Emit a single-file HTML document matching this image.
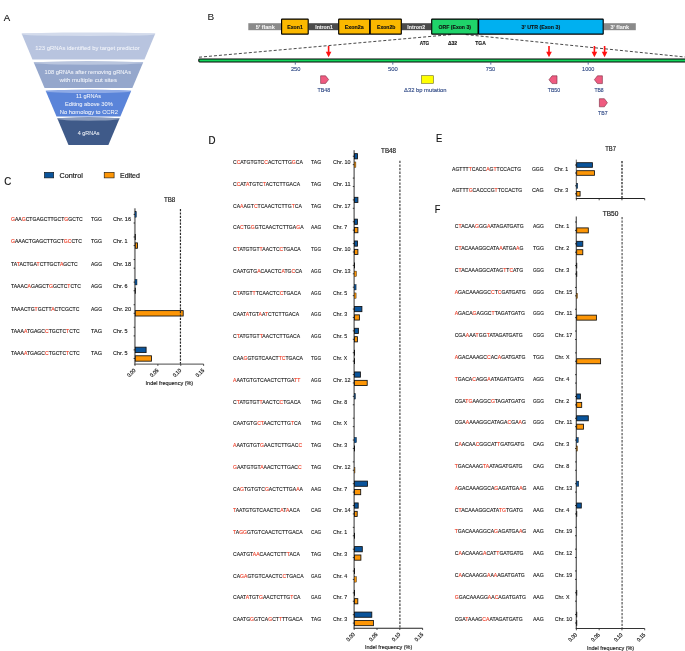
<!DOCTYPE html>
<html><head><meta charset="utf-8"><style>
html,body{margin:0;padding:0;background:#fff;width:685px;height:651px;overflow:hidden;}
svg{display:block;font-family:"Liberation Sans", sans-serif;will-change:transform;}
</style></head><body>
<svg width="685" height="651" viewBox="0 0 685 651">
<rect width="685" height="651" fill="#fff"/>
<text x="3.80" y="20.90" font-size="9.8" fill="#111" text-anchor="start" font-weight="normal" textLength="6.40" lengthAdjust="spacingAndGlyphs" stroke="#111" stroke-width="0.15" >A</text>
<polygon points="21.60,33.6 155.30,33.6 144.44,59.4 32.46,59.4" fill="#b8c4df"/>
<ellipse cx="88.45" cy="34.20" rx="66.85" ry="1.8" fill="#d3dbec"/>
<polygon points="33.68,62.3 143.22,62.3 132.36,88.1 44.54,88.1" fill="#95a7cc"/>
<ellipse cx="88.45" cy="62.90" rx="54.77" ry="1.8" fill="#b9c5de"/>
<polygon points="45.64,90.7 131.26,90.7 120.36,116.6 56.54,116.6" fill="#5a84d9"/>
<ellipse cx="88.45" cy="91.30" rx="42.81" ry="1.8" fill="#8eaae6"/>
<polygon points="57.26,118.3 119.64,118.3 108.40,145.0 68.50,145.0" fill="#3f5a89"/>
<ellipse cx="88.45" cy="118.90" rx="31.19" ry="1.8" fill="#8a9bbb"/>
<text x="35.20" y="49.50" font-size="6.2" fill="#f4f6fb" text-anchor="start" font-weight="normal" textLength="104.50" lengthAdjust="spacingAndGlyphs" stroke="#f4f6fb" stroke-width="0.04" >123 gRNAs identified by target predictor</text>
<text x="44.60" y="73.80" font-size="6.2" fill="#f4f6fb" text-anchor="start" font-weight="normal" textLength="86.40" lengthAdjust="spacingAndGlyphs" stroke="#f4f6fb" stroke-width="0.04" >108 gRNAs after removing gRNAs</text>
<text x="59.50" y="81.60" font-size="6.2" fill="#f4f6fb" text-anchor="start" font-weight="normal" textLength="57.50" lengthAdjust="spacingAndGlyphs" stroke="#f4f6fb" stroke-width="0.04" >with multiple cut sites</text>
<text x="76.10" y="98.40" font-size="6.2" fill="#f4f6fb" text-anchor="start" font-weight="normal" textLength="25.00" lengthAdjust="spacingAndGlyphs" stroke="#f4f6fb" stroke-width="0.04" >11 gRNAs</text>
<text x="64.90" y="106.00" font-size="6.2" fill="#f4f6fb" text-anchor="start" font-weight="normal" textLength="47.90" lengthAdjust="spacingAndGlyphs" stroke="#f4f6fb" stroke-width="0.04" >Editing above 30%</text>
<text x="59.80" y="113.90" font-size="6.2" fill="#f4f6fb" text-anchor="start" font-weight="normal" textLength="58.20" lengthAdjust="spacingAndGlyphs" stroke="#f4f6fb" stroke-width="0.04" >No homology to CCR2</text>
<text x="77.80" y="135.20" font-size="6.2" fill="#f4f6fb" text-anchor="start" font-weight="normal" textLength="21.70" lengthAdjust="spacingAndGlyphs" stroke="#f4f6fb" stroke-width="0.04" >4 gRNAs</text>
<text x="207.50" y="20.30" font-size="9.6" fill="#111" text-anchor="start" font-weight="normal" textLength="6.70" lengthAdjust="spacingAndGlyphs" stroke="#111" stroke-width="0.02" >B</text>
<line x1="451" y1="34.6" x2="198" y2="57.3" stroke="#333" stroke-width="0.9" stroke-dasharray="3,2"/>
<line x1="465.7" y1="34.6" x2="685" y2="57.0" stroke="#333" stroke-width="0.9" stroke-dasharray="3,2"/>
<rect x="248.3" y="23.2" width="32.80" height="7.00" fill="#8a8a8a"/>
<rect x="308.7" y="23.2" width="29.50" height="7.00" fill="#4b4b4b"/>
<rect x="401.8" y="23.2" width="29.40" height="7.00" fill="#4b4b4b"/>
<rect x="603.7" y="23.2" width="32.10" height="7.00" fill="#8a8a8a"/>
<rect x="281.60" y="19.10" width="26.60" height="15.00" fill="#fbb800" stroke="#000" stroke-width="1.15" rx="0.4"/>
<rect x="338.70" y="19.10" width="31.00" height="15.00" fill="#fbb800" stroke="#000" stroke-width="1.15" rx="0.4"/>
<rect x="370.20" y="19.10" width="31.10" height="15.00" fill="#fbb800" stroke="#000" stroke-width="1.15" rx="0.4"/>
<rect x="431.70" y="19.10" width="46.40" height="15.00" fill="#1fd36a" stroke="#000" stroke-width="1.15" rx="0.4"/>
<rect x="478.60" y="19.10" width="124.60" height="15.00" fill="#00b0f0" stroke="#000" stroke-width="1.15" rx="0.4"/>
<text x="255.80" y="29.00" font-size="5.6" fill="#f5f5f5" text-anchor="start" font-weight="bold" textLength="19.00" lengthAdjust="spacingAndGlyphs" stroke="#f5f5f5" stroke-width="0.08" >5' flank</text>
<text x="287.30" y="29.00" font-size="5.6" fill="#111" text-anchor="start" font-weight="bold" textLength="15.50" lengthAdjust="spacingAndGlyphs" stroke="#111" stroke-width="0.12" >Exon1</text>
<text x="315.20" y="29.00" font-size="5.6" fill="#f0f0f0" text-anchor="start" font-weight="bold" textLength="17.70" lengthAdjust="spacingAndGlyphs" stroke="#f0f0f0" stroke-width="0.08" >Intron1</text>
<text x="344.70" y="29.00" font-size="5.6" fill="#111" text-anchor="start" font-weight="bold" textLength="18.90" lengthAdjust="spacingAndGlyphs" stroke="#111" stroke-width="0.12" >Exon2a</text>
<text x="377.00" y="29.00" font-size="5.6" fill="#111" text-anchor="start" font-weight="bold" textLength="18.30" lengthAdjust="spacingAndGlyphs" stroke="#111" stroke-width="0.12" >Exon2b</text>
<text x="407.20" y="29.00" font-size="5.6" fill="#f0f0f0" text-anchor="start" font-weight="bold" textLength="17.90" lengthAdjust="spacingAndGlyphs" stroke="#f0f0f0" stroke-width="0.08" >Intron2</text>
<text x="438.50" y="29.00" font-size="5.6" fill="#111" text-anchor="start" font-weight="bold" textLength="32.50" lengthAdjust="spacingAndGlyphs" stroke="#111" stroke-width="0.12" >ORF (Exon 3)</text>
<text x="521.50" y="29.00" font-size="5.6" fill="#111" text-anchor="start" font-weight="bold" textLength="38.70" lengthAdjust="spacingAndGlyphs" stroke="#111" stroke-width="0.12" >3' UTR (Exon 3)</text>
<text x="610.50" y="28.80" font-size="5.6" fill="#f5f5f5" text-anchor="start" font-weight="bold" textLength="18.60" lengthAdjust="spacingAndGlyphs" stroke="#f5f5f5" stroke-width="0.08" >3' flank</text>
<text x="419.70" y="45.00" font-size="5.6" fill="#111" text-anchor="start" font-weight="bold" textLength="9.50" lengthAdjust="spacingAndGlyphs" stroke="#111" stroke-width="0.12" >ATG</text>
<text x="447.90" y="45.00" font-size="5.6" fill="#111" text-anchor="start" font-weight="bold" textLength="9.30" lengthAdjust="spacingAndGlyphs" stroke="#111" stroke-width="0.12" >&#916;32</text>
<text x="475.20" y="45.00" font-size="5.6" fill="#111" text-anchor="start" font-weight="bold" textLength="10.60" lengthAdjust="spacingAndGlyphs" stroke="#111" stroke-width="0.12" >TGA</text>
<rect x="198.8" y="58.9" width="487" height="3.0" rx="0.8" fill="#12d65c" stroke="#050505" stroke-width="1.05"/>
<line x1="295.3" y1="62.4" x2="295.3" y2="64.6" stroke="#2d4784" stroke-width="0.8"/>
<text x="290.90" y="71.30" font-size="5.4" fill="#2d4784" text-anchor="start" font-weight="normal" textLength="9.60" lengthAdjust="spacingAndGlyphs" stroke="#2d4784" stroke-width="0.1" >250</text>
<line x1="392.8" y1="62.4" x2="392.8" y2="64.6" stroke="#2d4784" stroke-width="0.8"/>
<text x="388.00" y="71.30" font-size="5.4" fill="#2d4784" text-anchor="start" font-weight="normal" textLength="9.80" lengthAdjust="spacingAndGlyphs" stroke="#2d4784" stroke-width="0.1" >500</text>
<line x1="490.8" y1="62.4" x2="490.8" y2="64.6" stroke="#2d4784" stroke-width="0.8"/>
<text x="485.80" y="71.30" font-size="5.4" fill="#2d4784" text-anchor="start" font-weight="normal" textLength="9.40" lengthAdjust="spacingAndGlyphs" stroke="#2d4784" stroke-width="0.1" >750</text>
<line x1="588.2" y1="62.4" x2="588.2" y2="64.6" stroke="#2d4784" stroke-width="0.8"/>
<text x="582.10" y="71.30" font-size="5.4" fill="#2d4784" text-anchor="start" font-weight="normal" textLength="12.30" lengthAdjust="spacingAndGlyphs" stroke="#2d4784" stroke-width="0.1" >1000</text>
<rect x="327.80" y="46.0" width="1.6" height="6.5" fill="#ff1010"/>
<polygon points="325.80,51.8 331.40,51.8 328.60,57.2" fill="#ff1010"/>
<rect x="548.20" y="46.0" width="1.6" height="6.5" fill="#ff1010"/>
<polygon points="546.20,51.8 551.80,51.8 549.00,57.2" fill="#ff1010"/>
<rect x="593.60" y="46.0" width="1.6" height="6.5" fill="#ff1010"/>
<polygon points="591.60,51.8 597.20,51.8 594.40,57.2" fill="#ff1010"/>
<rect x="603.80" y="46.0" width="1.6" height="6.5" fill="#ff1010"/>
<polygon points="601.80,51.8 607.40,51.8 604.60,57.2" fill="#ff1010"/>
<polygon points="320.6,75.8 325.56,75.8 328.6,79.60 325.56,83.4 320.6,83.4" fill="#ef5b80" stroke="#7a2a40" stroke-width="0.6"/>
<polygon points="557.0,75.8 552.04,75.8 549.0,79.70 552.04,83.6 557.0,83.6" fill="#ef5b80" stroke="#7a2a40" stroke-width="0.6"/>
<polygon points="602.4,75.8 597.44,75.8 594.4,79.70 597.44,83.6 602.4,83.6" fill="#ef5b80" stroke="#7a2a40" stroke-width="0.6"/>
<polygon points="599.4,98.7 604.36,98.7 607.4,102.75 604.36,106.8 599.4,106.8" fill="#ef5b80" stroke="#7a2a40" stroke-width="0.6"/>
<rect x="421.5" y="75.7" width="12" height="7.6" fill="#ffff00" stroke="#6b6b20" stroke-width="0.6"/>
<text x="317.50" y="91.60" font-size="5.6" fill="#2d4784" text-anchor="start" font-weight="normal" textLength="12.70" lengthAdjust="spacingAndGlyphs" stroke="#2d4784" stroke-width="0.12" >TB48</text>
<text x="404.10" y="91.80" font-size="5.6" fill="#2d4784" text-anchor="start" font-weight="normal" textLength="42.30" lengthAdjust="spacingAndGlyphs" stroke="#2d4784" stroke-width="0.12" >&#916;32 bp mutation</text>
<text x="547.70" y="91.70" font-size="5.6" fill="#2d4784" text-anchor="start" font-weight="normal" textLength="12.50" lengthAdjust="spacingAndGlyphs" stroke="#2d4784" stroke-width="0.12" >TB50</text>
<text x="594.40" y="91.70" font-size="5.6" fill="#2d4784" text-anchor="start" font-weight="normal" textLength="9.20" lengthAdjust="spacingAndGlyphs" stroke="#2d4784" stroke-width="0.12" >TB8</text>
<text x="598.10" y="115.10" font-size="5.6" fill="#2d4784" text-anchor="start" font-weight="normal" textLength="9.40" lengthAdjust="spacingAndGlyphs" stroke="#2d4784" stroke-width="0.12" >TB7</text>
<text x="4.20" y="185.40" font-size="10.2" fill="#111" text-anchor="start" font-weight="normal" textLength="7.00" lengthAdjust="spacingAndGlyphs" stroke="#111" stroke-width="0.15" >C</text>
<rect x="44.4" y="172.3" width="9.3" height="5.6" fill="#0a549b" stroke="#111" stroke-width="0.6"/>
<rect x="104.2" y="172.3" width="9.9" height="5.6" fill="#fd9606" stroke="#111" stroke-width="0.6"/>
<text x="59.50" y="178.30" font-size="8.0" fill="#1a1a1a" text-anchor="start" font-weight="normal" textLength="23.40" lengthAdjust="spacingAndGlyphs" stroke="#1a1a1a" stroke-width="0.2" >Control</text>
<text x="120.00" y="178.30" font-size="8.0" fill="#1a1a1a" text-anchor="start" font-weight="normal" textLength="19.90" lengthAdjust="spacingAndGlyphs" stroke="#1a1a1a" stroke-width="0.2" >Edited</text>
<text x="164.00" y="201.90" font-size="7.4" fill="#222" text-anchor="start" font-weight="normal" textLength="11.30" lengthAdjust="spacingAndGlyphs" stroke="#222" stroke-width="0.2" >TB8</text>
<text x="11.00" y="220.90" font-size="5.8" fill="#1a1a1a" stroke="#1a1a1a" stroke-width="0.15" textLength="71.68" lengthAdjust="spacingAndGlyphs"><tspan fill="#ee3b24" stroke="#ee3b24">G</tspan>AA<tspan fill="#ee3b24" stroke="#ee3b24">G</tspan>CTGAGCTTGCT<tspan fill="#ee3b24" stroke="#ee3b24">G</tspan>GCTC</text>
<text x="91.00" y="220.90" font-size="5.8" fill="#1a1a1a" text-anchor="start" font-weight="normal" textLength="11.00" lengthAdjust="spacingAndGlyphs" stroke="#1a1a1a" stroke-width="0.15" >TGG</text>
<text x="113.00" y="220.90" font-size="5.8" fill="#222" text-anchor="start" font-weight="normal" textLength="18.00" lengthAdjust="spacingAndGlyphs" stroke="#222" stroke-width="0.15" >Chr. 16</text>
<text x="11.00" y="243.30" font-size="5.8" fill="#1a1a1a" stroke="#1a1a1a" stroke-width="0.15" textLength="70.84" lengthAdjust="spacingAndGlyphs"><tspan fill="#ee3b24" stroke="#ee3b24">G</tspan>AAACTGAGCTTGCT<tspan fill="#ee3b24" stroke="#ee3b24">G</tspan><tspan fill="#ee3b24" stroke="#ee3b24">C</tspan>CTC</text>
<text x="91.00" y="243.30" font-size="5.8" fill="#1a1a1a" text-anchor="start" font-weight="normal" textLength="11.00" lengthAdjust="spacingAndGlyphs" stroke="#1a1a1a" stroke-width="0.15" >TGG</text>
<text x="113.00" y="243.30" font-size="5.8" fill="#222" text-anchor="start" font-weight="normal" textLength="14.50" lengthAdjust="spacingAndGlyphs" stroke="#222" stroke-width="0.15" >Chr. 1</text>
<text x="11.00" y="265.70" font-size="5.8" fill="#1a1a1a" stroke="#1a1a1a" stroke-width="0.15" textLength="66.69" lengthAdjust="spacingAndGlyphs">TA<tspan fill="#ee3b24" stroke="#ee3b24">T</tspan>ACTGA<tspan fill="#ee3b24" stroke="#ee3b24">T</tspan>CTTGCT<tspan fill="#ee3b24" stroke="#ee3b24">A</tspan>GCTC</text>
<text x="91.00" y="265.70" font-size="5.8" fill="#1a1a1a" text-anchor="start" font-weight="normal" textLength="11.00" lengthAdjust="spacingAndGlyphs" stroke="#1a1a1a" stroke-width="0.15" >AGG</text>
<text x="113.00" y="265.70" font-size="5.8" fill="#222" text-anchor="start" font-weight="normal" textLength="18.00" lengthAdjust="spacingAndGlyphs" stroke="#222" stroke-width="0.15" >Chr. 18</text>
<text x="11.00" y="288.10" font-size="5.8" fill="#1a1a1a" stroke="#1a1a1a" stroke-width="0.15" textLength="69.90" lengthAdjust="spacingAndGlyphs">TAAAC<tspan fill="#ee3b24" stroke="#ee3b24">A</tspan>GAGCT<tspan fill="#ee3b24" stroke="#ee3b24">G</tspan>GCTC<tspan fill="#ee3b24" stroke="#ee3b24">T</tspan>CTC</text>
<text x="91.00" y="288.10" font-size="5.8" fill="#1a1a1a" text-anchor="start" font-weight="normal" textLength="11.00" lengthAdjust="spacingAndGlyphs" stroke="#1a1a1a" stroke-width="0.15" >AGG</text>
<text x="113.00" y="288.10" font-size="5.8" fill="#222" text-anchor="start" font-weight="normal" textLength="14.50" lengthAdjust="spacingAndGlyphs" stroke="#222" stroke-width="0.15" >Chr. 6</text>
<text x="11.00" y="310.50" font-size="5.8" fill="#1a1a1a" stroke="#1a1a1a" stroke-width="0.15" textLength="68.39" lengthAdjust="spacingAndGlyphs">TAAACTG<tspan fill="#ee3b24" stroke="#ee3b24">T</tspan>GCTT<tspan fill="#ee3b24" stroke="#ee3b24">A</tspan>CTCGCTC</text>
<text x="91.00" y="310.50" font-size="5.8" fill="#1a1a1a" text-anchor="start" font-weight="normal" textLength="11.00" lengthAdjust="spacingAndGlyphs" stroke="#1a1a1a" stroke-width="0.15" >AGG</text>
<text x="113.00" y="310.50" font-size="5.8" fill="#222" text-anchor="start" font-weight="normal" textLength="18.00" lengthAdjust="spacingAndGlyphs" stroke="#222" stroke-width="0.15" >Chr. 20</text>
<text x="11.00" y="332.90" font-size="5.8" fill="#1a1a1a" stroke="#1a1a1a" stroke-width="0.15" textLength="68.67" lengthAdjust="spacingAndGlyphs">TAAA<tspan fill="#ee3b24" stroke="#ee3b24">A</tspan>TGAGC<tspan fill="#ee3b24" stroke="#ee3b24">C</tspan>TGCTC<tspan fill="#ee3b24" stroke="#ee3b24">T</tspan>CTC</text>
<text x="91.00" y="332.90" font-size="5.8" fill="#1a1a1a" text-anchor="start" font-weight="normal" textLength="11.00" lengthAdjust="spacingAndGlyphs" stroke="#1a1a1a" stroke-width="0.15" >TAG</text>
<text x="113.00" y="332.90" font-size="5.8" fill="#222" text-anchor="start" font-weight="normal" textLength="14.50" lengthAdjust="spacingAndGlyphs" stroke="#222" stroke-width="0.15" >Chr. 5</text>
<text x="11.00" y="355.30" font-size="5.8" fill="#1a1a1a" stroke="#1a1a1a" stroke-width="0.15" textLength="68.67" lengthAdjust="spacingAndGlyphs">TAAA<tspan fill="#ee3b24" stroke="#ee3b24">A</tspan>TGAGC<tspan fill="#ee3b24" stroke="#ee3b24">C</tspan>TGCTC<tspan fill="#ee3b24" stroke="#ee3b24">T</tspan>CTC</text>
<text x="91.00" y="355.30" font-size="5.8" fill="#1a1a1a" text-anchor="start" font-weight="normal" textLength="11.00" lengthAdjust="spacingAndGlyphs" stroke="#1a1a1a" stroke-width="0.15" >TAG</text>
<text x="113.00" y="355.30" font-size="5.8" fill="#222" text-anchor="start" font-weight="normal" textLength="14.50" lengthAdjust="spacingAndGlyphs" stroke="#222" stroke-width="0.15" >Chr. 5</text>
<line x1="134.90" y1="208.3" x2="134.90" y2="364.1" stroke="#8e8e8e" stroke-width="1.9"/>
<rect x="135.00" y="211.60" width="1.40" height="5.60" fill="#0a549b" stroke="#111" stroke-width="0.4"/>
<rect x="134.80" y="233.98" width="1.0" height="6.00" fill="#111"/>
<rect x="135.30" y="242.88" width="2.20" height="5.40" fill="#fd9606" stroke="#111" stroke-width="0.85"/>
<rect x="135.00" y="279.34" width="2.00" height="5.60" fill="#0a549b" stroke="#111" stroke-width="0.4"/>
<rect x="134.80" y="287.74" width="1.0" height="6.00" fill="#111"/>
<rect x="135.30" y="310.62" width="47.90" height="5.40" fill="#fd9606" stroke="#111" stroke-width="0.85"/>
<rect x="135.30" y="347.18" width="10.80" height="5.40" fill="#0a549b" stroke="#111" stroke-width="0.85"/>
<rect x="135.30" y="355.78" width="16.20" height="5.40" fill="#fd9606" stroke="#111" stroke-width="0.85"/>
<line x1="180.45" y1="209.0" x2="180.45" y2="364.1" stroke="#2a2a2a" stroke-width="1.2" stroke-dasharray="2.2,1.2"/>
<line x1="133.60" y1="214.40" x2="135.00" y2="214.40" stroke="#111" stroke-width="0.8"/>
<line x1="133.60" y1="223.00" x2="135.00" y2="223.00" stroke="#111" stroke-width="0.8"/>
<line x1="133.60" y1="236.98" x2="135.00" y2="236.98" stroke="#111" stroke-width="0.8"/>
<line x1="133.60" y1="245.58" x2="135.00" y2="245.58" stroke="#111" stroke-width="0.8"/>
<line x1="133.60" y1="259.56" x2="135.00" y2="259.56" stroke="#111" stroke-width="0.8"/>
<line x1="133.60" y1="268.16" x2="135.00" y2="268.16" stroke="#111" stroke-width="0.8"/>
<line x1="133.60" y1="282.14" x2="135.00" y2="282.14" stroke="#111" stroke-width="0.8"/>
<line x1="133.60" y1="290.74" x2="135.00" y2="290.74" stroke="#111" stroke-width="0.8"/>
<line x1="133.60" y1="304.72" x2="135.00" y2="304.72" stroke="#111" stroke-width="0.8"/>
<line x1="133.60" y1="313.32" x2="135.00" y2="313.32" stroke="#111" stroke-width="0.8"/>
<line x1="133.60" y1="327.30" x2="135.00" y2="327.30" stroke="#111" stroke-width="0.8"/>
<line x1="133.60" y1="335.90" x2="135.00" y2="335.90" stroke="#111" stroke-width="0.8"/>
<line x1="133.60" y1="349.88" x2="135.00" y2="349.88" stroke="#111" stroke-width="0.8"/>
<line x1="133.60" y1="358.48" x2="135.00" y2="358.48" stroke="#111" stroke-width="0.8"/>
<line x1="133.95" y1="364.1" x2="203.61" y2="364.1" stroke="#6e6e6e" stroke-width="1.3"/>
<line x1="135.00" y1="364.1" x2="135.00" y2="365.90" stroke="#222" stroke-width="0.8"/>
<text x="136.00" y="370.80" font-size="5.5" fill="#222" stroke="#222" stroke-width="0.2" text-anchor="end" textLength="9.6" lengthAdjust="spacingAndGlyphs" transform="rotate(-45 136.00 370.80)">0.00</text>
<line x1="157.87" y1="364.1" x2="157.87" y2="365.90" stroke="#222" stroke-width="0.8"/>
<text x="158.87" y="370.80" font-size="5.5" fill="#222" stroke="#222" stroke-width="0.2" text-anchor="end" textLength="9.6" lengthAdjust="spacingAndGlyphs" transform="rotate(-45 158.87 370.80)">0.05</text>
<line x1="180.74" y1="364.1" x2="180.74" y2="365.90" stroke="#222" stroke-width="0.8"/>
<text x="181.74" y="370.80" font-size="5.5" fill="#222" stroke="#222" stroke-width="0.2" text-anchor="end" textLength="9.6" lengthAdjust="spacingAndGlyphs" transform="rotate(-45 181.74 370.80)">0.10</text>
<line x1="203.61" y1="364.1" x2="203.61" y2="365.90" stroke="#222" stroke-width="0.8"/>
<text x="204.61" y="370.80" font-size="5.5" fill="#222" stroke="#222" stroke-width="0.2" text-anchor="end" textLength="9.6" lengthAdjust="spacingAndGlyphs" transform="rotate(-45 204.61 370.80)">0.15</text>
<text x="145.60" y="385.40" font-size="5.8" fill="#222" text-anchor="start" font-weight="normal" textLength="47.60" lengthAdjust="spacingAndGlyphs" stroke="#222" stroke-width="0.15" >Indel frequency (%)</text>
<text x="208.60" y="143.60" font-size="10.2" fill="#111" text-anchor="start" font-weight="normal" textLength="7.00" lengthAdjust="spacingAndGlyphs" stroke="#111" stroke-width="0.2" >D</text>
<text x="381.10" y="153.00" font-size="6.5" fill="#222" text-anchor="start" font-weight="normal" textLength="14.90" lengthAdjust="spacingAndGlyphs" stroke="#222" stroke-width="0.2" >TB48</text>
<text x="233.00" y="164.20" font-size="5.6" fill="#1a1a1a" stroke="#1a1a1a" stroke-width="0.12" textLength="69.89" lengthAdjust="spacingAndGlyphs">C<tspan fill="#ee3b24" stroke="#ee3b24">C</tspan>ATGTGTC<tspan fill="#ee3b24" stroke="#ee3b24">C</tspan>ACTCTTG<tspan fill="#ee3b24" stroke="#ee3b24">G</tspan>CA</text>
<text x="311.00" y="164.20" font-size="5.6" fill="#1a1a1a" text-anchor="start" font-weight="normal" textLength="10.20" lengthAdjust="spacingAndGlyphs" stroke="#1a1a1a" stroke-width="0.12" >TAG</text>
<text x="333.00" y="164.20" font-size="5.6" fill="#222" text-anchor="start" font-weight="normal" textLength="17.50" lengthAdjust="spacingAndGlyphs" stroke="#222" stroke-width="0.12" >Chr. 10</text>
<text x="233.00" y="185.95" font-size="5.6" fill="#1a1a1a" stroke="#1a1a1a" stroke-width="0.12" textLength="67.07" lengthAdjust="spacingAndGlyphs">C<tspan fill="#ee3b24" stroke="#ee3b24">C</tspan>AT<tspan fill="#ee3b24" stroke="#ee3b24">A</tspan>TGTC<tspan fill="#ee3b24" stroke="#ee3b24">T</tspan>ACTCTTGACA</text>
<text x="311.00" y="185.95" font-size="5.6" fill="#1a1a1a" text-anchor="start" font-weight="normal" textLength="10.20" lengthAdjust="spacingAndGlyphs" stroke="#1a1a1a" stroke-width="0.12" >TAG</text>
<text x="333.00" y="185.95" font-size="5.6" fill="#222" text-anchor="start" font-weight="normal" textLength="17.50" lengthAdjust="spacingAndGlyphs" stroke="#222" stroke-width="0.12" >Chr. 11</text>
<text x="233.00" y="207.71" font-size="5.6" fill="#1a1a1a" stroke="#1a1a1a" stroke-width="0.12" textLength="68.86" lengthAdjust="spacingAndGlyphs">CA<tspan fill="#ee3b24" stroke="#ee3b24">A</tspan>AGT<tspan fill="#ee3b24" stroke="#ee3b24">C</tspan>TCAACTCTTG<tspan fill="#ee3b24" stroke="#ee3b24">T</tspan>CA</text>
<text x="311.00" y="207.71" font-size="5.6" fill="#1a1a1a" text-anchor="start" font-weight="normal" textLength="10.20" lengthAdjust="spacingAndGlyphs" stroke="#1a1a1a" stroke-width="0.12" >TAG</text>
<text x="333.00" y="207.71" font-size="5.6" fill="#222" text-anchor="start" font-weight="normal" textLength="17.50" lengthAdjust="spacingAndGlyphs" stroke="#222" stroke-width="0.12" >Chr. 17</text>
<text x="233.00" y="229.46" font-size="5.6" fill="#1a1a1a" stroke="#1a1a1a" stroke-width="0.12" textLength="70.56" lengthAdjust="spacingAndGlyphs">CA<tspan fill="#ee3b24" stroke="#ee3b24">C</tspan>TG<tspan fill="#ee3b24" stroke="#ee3b24">G</tspan>GTCAACTCTTGA<tspan fill="#ee3b24" stroke="#ee3b24">G</tspan>A</text>
<text x="311.00" y="229.46" font-size="5.6" fill="#1a1a1a" text-anchor="start" font-weight="normal" textLength="10.20" lengthAdjust="spacingAndGlyphs" stroke="#1a1a1a" stroke-width="0.12" >AAG</text>
<text x="333.00" y="229.46" font-size="5.6" fill="#222" text-anchor="start" font-weight="normal" textLength="14.20" lengthAdjust="spacingAndGlyphs" stroke="#222" stroke-width="0.12" >Chr. 7</text>
<text x="233.00" y="251.22" font-size="5.6" fill="#1a1a1a" stroke="#1a1a1a" stroke-width="0.12" textLength="67.73" lengthAdjust="spacingAndGlyphs">C<tspan fill="#ee3b24" stroke="#ee3b24">T</tspan>ATGTGT<tspan fill="#ee3b24" stroke="#ee3b24">T</tspan>AACTC<tspan fill="#ee3b24" stroke="#ee3b24">C</tspan>TGACA</text>
<text x="311.00" y="251.22" font-size="5.6" fill="#1a1a1a" text-anchor="start" font-weight="normal" textLength="10.20" lengthAdjust="spacingAndGlyphs" stroke="#1a1a1a" stroke-width="0.12" >TGG</text>
<text x="333.00" y="251.22" font-size="5.6" fill="#222" text-anchor="start" font-weight="normal" textLength="17.50" lengthAdjust="spacingAndGlyphs" stroke="#222" stroke-width="0.12" >Chr. 10</text>
<text x="233.00" y="272.97" font-size="5.6" fill="#1a1a1a" stroke="#1a1a1a" stroke-width="0.12" textLength="69.24" lengthAdjust="spacingAndGlyphs">CAATGTG<tspan fill="#ee3b24" stroke="#ee3b24">A</tspan>CAACTC<tspan fill="#ee3b24" stroke="#ee3b24">A</tspan>TG<tspan fill="#ee3b24" stroke="#ee3b24">C</tspan>CA</text>
<text x="311.00" y="272.97" font-size="5.6" fill="#1a1a1a" text-anchor="start" font-weight="normal" textLength="10.20" lengthAdjust="spacingAndGlyphs" stroke="#1a1a1a" stroke-width="0.12" >AGG</text>
<text x="333.00" y="272.97" font-size="5.6" fill="#222" text-anchor="start" font-weight="normal" textLength="17.50" lengthAdjust="spacingAndGlyphs" stroke="#222" stroke-width="0.12" >Chr. 13</text>
<text x="233.00" y="294.73" font-size="5.6" fill="#1a1a1a" stroke="#1a1a1a" stroke-width="0.12" textLength="67.82" lengthAdjust="spacingAndGlyphs">C<tspan fill="#ee3b24" stroke="#ee3b24">T</tspan>ATGT<tspan fill="#ee3b24" stroke="#ee3b24">T</tspan>TCAACTC<tspan fill="#ee3b24" stroke="#ee3b24">C</tspan>TGACA</text>
<text x="311.00" y="294.73" font-size="5.6" fill="#1a1a1a" text-anchor="start" font-weight="normal" textLength="10.20" lengthAdjust="spacingAndGlyphs" stroke="#1a1a1a" stroke-width="0.12" >AGG</text>
<text x="333.00" y="294.73" font-size="5.6" fill="#222" text-anchor="start" font-weight="normal" textLength="14.20" lengthAdjust="spacingAndGlyphs" stroke="#222" stroke-width="0.12" >Chr. 5</text>
<text x="233.00" y="316.49" font-size="5.6" fill="#1a1a1a" stroke="#1a1a1a" stroke-width="0.12" textLength="66.13" lengthAdjust="spacingAndGlyphs">CAAT<tspan fill="#ee3b24" stroke="#ee3b24">A</tspan>TGT<tspan fill="#ee3b24" stroke="#ee3b24">A</tspan>A<tspan fill="#ee3b24" stroke="#ee3b24">T</tspan>CTCTTGACA</text>
<text x="311.00" y="316.49" font-size="5.6" fill="#1a1a1a" text-anchor="start" font-weight="normal" textLength="10.20" lengthAdjust="spacingAndGlyphs" stroke="#1a1a1a" stroke-width="0.12" >AGG</text>
<text x="333.00" y="316.49" font-size="5.6" fill="#222" text-anchor="start" font-weight="normal" textLength="14.20" lengthAdjust="spacingAndGlyphs" stroke="#222" stroke-width="0.12" >Chr. 3</text>
<text x="233.00" y="338.24" font-size="5.6" fill="#1a1a1a" stroke="#1a1a1a" stroke-width="0.12" textLength="67.16" lengthAdjust="spacingAndGlyphs">C<tspan fill="#ee3b24" stroke="#ee3b24">T</tspan>ATGTGT<tspan fill="#ee3b24" stroke="#ee3b24">T</tspan>AACTCTTGACA</text>
<text x="311.00" y="338.24" font-size="5.6" fill="#1a1a1a" text-anchor="start" font-weight="normal" textLength="10.20" lengthAdjust="spacingAndGlyphs" stroke="#1a1a1a" stroke-width="0.12" >AGG</text>
<text x="333.00" y="338.24" font-size="5.6" fill="#222" text-anchor="start" font-weight="normal" textLength="14.20" lengthAdjust="spacingAndGlyphs" stroke="#222" stroke-width="0.12" >Chr. 5</text>
<text x="233.00" y="360.00" font-size="5.6" fill="#1a1a1a" stroke="#1a1a1a" stroke-width="0.12" textLength="69.99" lengthAdjust="spacingAndGlyphs">CAA<tspan fill="#ee3b24" stroke="#ee3b24">G</tspan>GTGTCAACT<tspan fill="#ee3b24" stroke="#ee3b24">T</tspan><tspan fill="#ee3b24" stroke="#ee3b24">C</tspan>TGACA</text>
<text x="311.00" y="360.00" font-size="5.6" fill="#1a1a1a" text-anchor="start" font-weight="normal" textLength="10.20" lengthAdjust="spacingAndGlyphs" stroke="#1a1a1a" stroke-width="0.12" >TGG</text>
<text x="333.00" y="360.00" font-size="5.6" fill="#222" text-anchor="start" font-weight="normal" textLength="14.20" lengthAdjust="spacingAndGlyphs" stroke="#222" stroke-width="0.12" >Chr. X</text>
<text x="233.00" y="381.75" font-size="5.6" fill="#1a1a1a" stroke="#1a1a1a" stroke-width="0.12" textLength="67.26" lengthAdjust="spacingAndGlyphs"><tspan fill="#ee3b24" stroke="#ee3b24">A</tspan>AATGTGTCAACTCTTGA<tspan fill="#ee3b24" stroke="#ee3b24">T</tspan><tspan fill="#ee3b24" stroke="#ee3b24">T</tspan></text>
<text x="311.00" y="381.75" font-size="5.6" fill="#1a1a1a" text-anchor="start" font-weight="normal" textLength="10.20" lengthAdjust="spacingAndGlyphs" stroke="#1a1a1a" stroke-width="0.12" >AGG</text>
<text x="333.00" y="381.75" font-size="5.6" fill="#222" text-anchor="start" font-weight="normal" textLength="17.50" lengthAdjust="spacingAndGlyphs" stroke="#222" stroke-width="0.12" >Chr. 12</text>
<text x="233.00" y="403.50" font-size="5.6" fill="#1a1a1a" stroke="#1a1a1a" stroke-width="0.12" textLength="67.73" lengthAdjust="spacingAndGlyphs">C<tspan fill="#ee3b24" stroke="#ee3b24">T</tspan>ATGTGT<tspan fill="#ee3b24" stroke="#ee3b24">T</tspan>AACTC<tspan fill="#ee3b24" stroke="#ee3b24">C</tspan>TGACA</text>
<text x="311.00" y="403.50" font-size="5.6" fill="#1a1a1a" text-anchor="start" font-weight="normal" textLength="10.20" lengthAdjust="spacingAndGlyphs" stroke="#1a1a1a" stroke-width="0.12" >TAG</text>
<text x="333.00" y="403.50" font-size="5.6" fill="#222" text-anchor="start" font-weight="normal" textLength="14.20" lengthAdjust="spacingAndGlyphs" stroke="#222" stroke-width="0.12" >Chr. 8</text>
<text x="233.00" y="425.26" font-size="5.6" fill="#1a1a1a" stroke="#1a1a1a" stroke-width="0.12" textLength="68.11" lengthAdjust="spacingAndGlyphs">CAATGTG<tspan fill="#ee3b24" stroke="#ee3b24">C</tspan><tspan fill="#ee3b24" stroke="#ee3b24">T</tspan>AACTCTTG<tspan fill="#ee3b24" stroke="#ee3b24">T</tspan>CA</text>
<text x="311.00" y="425.26" font-size="5.6" fill="#1a1a1a" text-anchor="start" font-weight="normal" textLength="10.20" lengthAdjust="spacingAndGlyphs" stroke="#1a1a1a" stroke-width="0.12" >TAG</text>
<text x="333.00" y="425.26" font-size="5.6" fill="#222" text-anchor="start" font-weight="normal" textLength="14.20" lengthAdjust="spacingAndGlyphs" stroke="#222" stroke-width="0.12" >Chr. X</text>
<text x="233.00" y="447.01" font-size="5.6" fill="#1a1a1a" stroke="#1a1a1a" stroke-width="0.12" textLength="69.05" lengthAdjust="spacingAndGlyphs"><tspan fill="#ee3b24" stroke="#ee3b24">A</tspan>AATGTGT<tspan fill="#ee3b24" stroke="#ee3b24">G</tspan>AACTCTTGAC<tspan fill="#ee3b24" stroke="#ee3b24">C</tspan></text>
<text x="311.00" y="447.01" font-size="5.6" fill="#1a1a1a" text-anchor="start" font-weight="normal" textLength="10.20" lengthAdjust="spacingAndGlyphs" stroke="#1a1a1a" stroke-width="0.12" >TAG</text>
<text x="333.00" y="447.01" font-size="5.6" fill="#222" text-anchor="start" font-weight="normal" textLength="14.20" lengthAdjust="spacingAndGlyphs" stroke="#222" stroke-width="0.12" >Chr. 3</text>
<text x="233.00" y="468.77" font-size="5.6" fill="#1a1a1a" stroke="#1a1a1a" stroke-width="0.12" textLength="68.67" lengthAdjust="spacingAndGlyphs"><tspan fill="#ee3b24" stroke="#ee3b24">G</tspan>AATGTGT<tspan fill="#ee3b24" stroke="#ee3b24">A</tspan>AACTCTTGAC<tspan fill="#ee3b24" stroke="#ee3b24">C</tspan></text>
<text x="311.00" y="468.77" font-size="5.6" fill="#1a1a1a" text-anchor="start" font-weight="normal" textLength="10.20" lengthAdjust="spacingAndGlyphs" stroke="#1a1a1a" stroke-width="0.12" >TAG</text>
<text x="333.00" y="468.77" font-size="5.6" fill="#222" text-anchor="start" font-weight="normal" textLength="17.50" lengthAdjust="spacingAndGlyphs" stroke="#222" stroke-width="0.12" >Chr. 12</text>
<text x="233.00" y="490.52" font-size="5.6" fill="#1a1a1a" stroke="#1a1a1a" stroke-width="0.12" textLength="69.99" lengthAdjust="spacingAndGlyphs">CA<tspan fill="#ee3b24" stroke="#ee3b24">G</tspan>TGTGTC<tspan fill="#ee3b24" stroke="#ee3b24">G</tspan>ACTCTTGA<tspan fill="#ee3b24" stroke="#ee3b24">A</tspan>A</text>
<text x="311.00" y="490.52" font-size="5.6" fill="#1a1a1a" text-anchor="start" font-weight="normal" textLength="10.20" lengthAdjust="spacingAndGlyphs" stroke="#1a1a1a" stroke-width="0.12" >AAG</text>
<text x="333.00" y="490.52" font-size="5.6" fill="#222" text-anchor="start" font-weight="normal" textLength="14.20" lengthAdjust="spacingAndGlyphs" stroke="#222" stroke-width="0.12" >Chr. 7</text>
<text x="233.00" y="512.28" font-size="5.6" fill="#1a1a1a" stroke="#1a1a1a" stroke-width="0.12" textLength="66.79" lengthAdjust="spacingAndGlyphs"><tspan fill="#ee3b24" stroke="#ee3b24">T</tspan>AATGTGTCAACTC<tspan fill="#ee3b24" stroke="#ee3b24">A</tspan>T<tspan fill="#ee3b24" stroke="#ee3b24">A</tspan>ACA</text>
<text x="311.00" y="512.28" font-size="5.6" fill="#1a1a1a" text-anchor="start" font-weight="normal" textLength="10.20" lengthAdjust="spacingAndGlyphs" stroke="#1a1a1a" stroke-width="0.12" >CAG</text>
<text x="333.00" y="512.28" font-size="5.6" fill="#222" text-anchor="start" font-weight="normal" textLength="17.50" lengthAdjust="spacingAndGlyphs" stroke="#222" stroke-width="0.12" >Chr. 14</text>
<text x="233.00" y="534.03" font-size="5.6" fill="#1a1a1a" stroke="#1a1a1a" stroke-width="0.12" textLength="69.61" lengthAdjust="spacingAndGlyphs"><tspan fill="#ee3b24" stroke="#ee3b24">T</tspan>A<tspan fill="#ee3b24" stroke="#ee3b24">G</tspan><tspan fill="#ee3b24" stroke="#ee3b24">G</tspan>GTGTCAACTCTTGACA</text>
<text x="311.00" y="534.03" font-size="5.6" fill="#1a1a1a" text-anchor="start" font-weight="normal" textLength="10.20" lengthAdjust="spacingAndGlyphs" stroke="#1a1a1a" stroke-width="0.12" >CAG</text>
<text x="333.00" y="534.03" font-size="5.6" fill="#222" text-anchor="start" font-weight="normal" textLength="14.20" lengthAdjust="spacingAndGlyphs" stroke="#222" stroke-width="0.12" >Chr. 1</text>
<text x="233.00" y="555.79" font-size="5.6" fill="#1a1a1a" stroke="#1a1a1a" stroke-width="0.12" textLength="66.89" lengthAdjust="spacingAndGlyphs">CAATGT<tspan fill="#ee3b24" stroke="#ee3b24">A</tspan><tspan fill="#ee3b24" stroke="#ee3b24">A</tspan>CAACTCTT<tspan fill="#ee3b24" stroke="#ee3b24">T</tspan>ACA</text>
<text x="311.00" y="555.79" font-size="5.6" fill="#1a1a1a" text-anchor="start" font-weight="normal" textLength="10.20" lengthAdjust="spacingAndGlyphs" stroke="#1a1a1a" stroke-width="0.12" >TAG</text>
<text x="333.00" y="555.79" font-size="5.6" fill="#222" text-anchor="start" font-weight="normal" textLength="14.20" lengthAdjust="spacingAndGlyphs" stroke="#222" stroke-width="0.12" >Chr. 3</text>
<text x="233.00" y="577.54" font-size="5.6" fill="#1a1a1a" stroke="#1a1a1a" stroke-width="0.12" textLength="70.56" lengthAdjust="spacingAndGlyphs">CA<tspan fill="#ee3b24" stroke="#ee3b24">G</tspan><tspan fill="#ee3b24" stroke="#ee3b24">A</tspan>GTGTCAACTC<tspan fill="#ee3b24" stroke="#ee3b24">C</tspan>TGACA</text>
<text x="311.00" y="577.54" font-size="5.6" fill="#1a1a1a" text-anchor="start" font-weight="normal" textLength="10.20" lengthAdjust="spacingAndGlyphs" stroke="#1a1a1a" stroke-width="0.12" >GAG</text>
<text x="333.00" y="577.54" font-size="5.6" fill="#222" text-anchor="start" font-weight="normal" textLength="14.20" lengthAdjust="spacingAndGlyphs" stroke="#222" stroke-width="0.12" >Chr. 4</text>
<text x="233.00" y="599.30" font-size="5.6" fill="#1a1a1a" stroke="#1a1a1a" stroke-width="0.12" textLength="67.45" lengthAdjust="spacingAndGlyphs">CAAT<tspan fill="#ee3b24" stroke="#ee3b24">A</tspan>TGT<tspan fill="#ee3b24" stroke="#ee3b24">G</tspan>AACTCTTG<tspan fill="#ee3b24" stroke="#ee3b24">T</tspan>CA</text>
<text x="311.00" y="599.30" font-size="5.6" fill="#1a1a1a" text-anchor="start" font-weight="normal" textLength="10.20" lengthAdjust="spacingAndGlyphs" stroke="#1a1a1a" stroke-width="0.12" >GAG</text>
<text x="333.00" y="599.30" font-size="5.6" fill="#222" text-anchor="start" font-weight="normal" textLength="14.20" lengthAdjust="spacingAndGlyphs" stroke="#222" stroke-width="0.12" >Chr. 7</text>
<text x="233.00" y="621.05" font-size="5.6" fill="#1a1a1a" stroke="#1a1a1a" stroke-width="0.12" textLength="69.61" lengthAdjust="spacingAndGlyphs">CAATG<tspan fill="#ee3b24" stroke="#ee3b24">G</tspan>GTCA<tspan fill="#ee3b24" stroke="#ee3b24">G</tspan>CT<tspan fill="#ee3b24" stroke="#ee3b24">T</tspan>TTGACA</text>
<text x="311.00" y="621.05" font-size="5.6" fill="#1a1a1a" text-anchor="start" font-weight="normal" textLength="10.20" lengthAdjust="spacingAndGlyphs" stroke="#1a1a1a" stroke-width="0.12" >TAG</text>
<text x="333.00" y="621.05" font-size="5.6" fill="#222" text-anchor="start" font-weight="normal" textLength="14.20" lengthAdjust="spacingAndGlyphs" stroke="#222" stroke-width="0.12" >Chr. 3</text>
<line x1="354.10" y1="150.2" x2="354.10" y2="628.2" stroke="#333" stroke-width="1.0"/>
<rect x="354.50" y="153.65" width="3.00" height="5.20" fill="#0a549b" stroke="#111" stroke-width="0.85"/>
<rect x="354.20" y="161.95" width="1.70" height="5.40" fill="#fd9606" stroke="#111" stroke-width="0.4"/>
<rect x="354.50" y="197.31" width="3.40" height="5.20" fill="#0a549b" stroke="#111" stroke-width="0.85"/>
<rect x="354.50" y="219.14" width="2.90" height="5.20" fill="#0a549b" stroke="#111" stroke-width="0.85"/>
<rect x="354.50" y="227.54" width="3.40" height="5.20" fill="#fd9606" stroke="#111" stroke-width="0.85"/>
<rect x="354.50" y="240.97" width="3.00" height="5.20" fill="#0a549b" stroke="#111" stroke-width="0.85"/>
<rect x="354.50" y="249.37" width="3.40" height="5.20" fill="#fd9606" stroke="#111" stroke-width="0.85"/>
<rect x="354.00" y="262.50" width="1.0" height="5.80" fill="#111"/>
<rect x="354.20" y="271.10" width="2.30" height="5.40" fill="#fd9606" stroke="#111" stroke-width="0.4"/>
<rect x="354.20" y="284.53" width="1.90" height="5.40" fill="#0a549b" stroke="#111" stroke-width="0.4"/>
<rect x="354.20" y="292.93" width="1.90" height="5.40" fill="#fd9606" stroke="#111" stroke-width="0.4"/>
<rect x="354.50" y="306.46" width="7.40" height="5.20" fill="#0a549b" stroke="#111" stroke-width="0.85"/>
<rect x="354.50" y="314.86" width="4.90" height="5.20" fill="#fd9606" stroke="#111" stroke-width="0.85"/>
<rect x="354.50" y="328.29" width="3.90" height="5.20" fill="#0a549b" stroke="#111" stroke-width="0.85"/>
<rect x="354.50" y="336.69" width="2.90" height="5.20" fill="#fd9606" stroke="#111" stroke-width="0.85"/>
<rect x="354.00" y="349.82" width="1.0" height="5.80" fill="#111"/>
<rect x="354.00" y="358.22" width="1.0" height="5.80" fill="#111"/>
<rect x="354.50" y="371.95" width="5.90" height="5.20" fill="#0a549b" stroke="#111" stroke-width="0.85"/>
<rect x="354.50" y="380.35" width="12.70" height="5.20" fill="#fd9606" stroke="#111" stroke-width="0.85"/>
<rect x="354.20" y="393.68" width="1.30" height="5.40" fill="#0a549b" stroke="#111" stroke-width="0.4"/>
<rect x="354.20" y="437.34" width="2.30" height="5.40" fill="#0a549b" stroke="#111" stroke-width="0.4"/>
<rect x="354.00" y="445.54" width="1.0" height="5.80" fill="#111"/>
<rect x="354.20" y="467.57" width="0.80" height="5.40" fill="#fd9606" stroke="#111" stroke-width="0.4"/>
<rect x="354.50" y="481.10" width="13.00" height="5.20" fill="#0a549b" stroke="#111" stroke-width="0.85"/>
<rect x="354.50" y="489.50" width="6.20" height="5.20" fill="#fd9606" stroke="#111" stroke-width="0.85"/>
<rect x="354.50" y="502.93" width="3.70" height="5.20" fill="#0a549b" stroke="#111" stroke-width="0.85"/>
<rect x="354.50" y="511.33" width="2.70" height="5.20" fill="#fd9606" stroke="#111" stroke-width="0.85"/>
<rect x="354.00" y="532.86" width="1.0" height="5.80" fill="#111"/>
<rect x="354.50" y="546.59" width="7.80" height="5.20" fill="#0a549b" stroke="#111" stroke-width="0.85"/>
<rect x="354.50" y="554.99" width="6.40" height="5.20" fill="#fd9606" stroke="#111" stroke-width="0.85"/>
<rect x="354.00" y="568.12" width="1.0" height="5.80" fill="#111"/>
<rect x="354.20" y="576.72" width="2.30" height="5.40" fill="#fd9606" stroke="#111" stroke-width="0.4"/>
<rect x="354.00" y="589.95" width="1.0" height="5.80" fill="#111"/>
<rect x="354.50" y="598.65" width="3.30" height="5.20" fill="#fd9606" stroke="#111" stroke-width="0.85"/>
<rect x="354.50" y="612.08" width="17.30" height="5.20" fill="#0a549b" stroke="#111" stroke-width="0.85"/>
<rect x="354.50" y="620.48" width="18.90" height="5.20" fill="#fd9606" stroke="#111" stroke-width="0.85"/>
<line x1="399.9" y1="160.8" x2="399.9" y2="628.2" stroke="#6a6a6a" stroke-width="1.5" stroke-dasharray="2.3,1.3"/>
<line x1="352.80" y1="156.25" x2="354.20" y2="156.25" stroke="#111" stroke-width="0.8"/>
<line x1="352.80" y1="164.65" x2="354.20" y2="164.65" stroke="#111" stroke-width="0.8"/>
<line x1="352.80" y1="178.08" x2="354.20" y2="178.08" stroke="#111" stroke-width="0.8"/>
<line x1="352.80" y1="186.48" x2="354.20" y2="186.48" stroke="#111" stroke-width="0.8"/>
<line x1="352.80" y1="199.91" x2="354.20" y2="199.91" stroke="#111" stroke-width="0.8"/>
<line x1="352.80" y1="208.31" x2="354.20" y2="208.31" stroke="#111" stroke-width="0.8"/>
<line x1="352.80" y1="221.74" x2="354.20" y2="221.74" stroke="#111" stroke-width="0.8"/>
<line x1="352.80" y1="230.14" x2="354.20" y2="230.14" stroke="#111" stroke-width="0.8"/>
<line x1="352.80" y1="243.57" x2="354.20" y2="243.57" stroke="#111" stroke-width="0.8"/>
<line x1="352.80" y1="251.97" x2="354.20" y2="251.97" stroke="#111" stroke-width="0.8"/>
<line x1="352.80" y1="265.40" x2="354.20" y2="265.40" stroke="#111" stroke-width="0.8"/>
<line x1="352.80" y1="273.80" x2="354.20" y2="273.80" stroke="#111" stroke-width="0.8"/>
<line x1="352.80" y1="287.23" x2="354.20" y2="287.23" stroke="#111" stroke-width="0.8"/>
<line x1="352.80" y1="295.63" x2="354.20" y2="295.63" stroke="#111" stroke-width="0.8"/>
<line x1="352.80" y1="309.06" x2="354.20" y2="309.06" stroke="#111" stroke-width="0.8"/>
<line x1="352.80" y1="317.46" x2="354.20" y2="317.46" stroke="#111" stroke-width="0.8"/>
<line x1="352.80" y1="330.89" x2="354.20" y2="330.89" stroke="#111" stroke-width="0.8"/>
<line x1="352.80" y1="339.29" x2="354.20" y2="339.29" stroke="#111" stroke-width="0.8"/>
<line x1="352.80" y1="352.72" x2="354.20" y2="352.72" stroke="#111" stroke-width="0.8"/>
<line x1="352.80" y1="361.12" x2="354.20" y2="361.12" stroke="#111" stroke-width="0.8"/>
<line x1="352.80" y1="374.55" x2="354.20" y2="374.55" stroke="#111" stroke-width="0.8"/>
<line x1="352.80" y1="382.95" x2="354.20" y2="382.95" stroke="#111" stroke-width="0.8"/>
<line x1="352.80" y1="396.38" x2="354.20" y2="396.38" stroke="#111" stroke-width="0.8"/>
<line x1="352.80" y1="404.78" x2="354.20" y2="404.78" stroke="#111" stroke-width="0.8"/>
<line x1="352.80" y1="418.21" x2="354.20" y2="418.21" stroke="#111" stroke-width="0.8"/>
<line x1="352.80" y1="426.61" x2="354.20" y2="426.61" stroke="#111" stroke-width="0.8"/>
<line x1="352.80" y1="440.04" x2="354.20" y2="440.04" stroke="#111" stroke-width="0.8"/>
<line x1="352.80" y1="448.44" x2="354.20" y2="448.44" stroke="#111" stroke-width="0.8"/>
<line x1="352.80" y1="461.87" x2="354.20" y2="461.87" stroke="#111" stroke-width="0.8"/>
<line x1="352.80" y1="470.27" x2="354.20" y2="470.27" stroke="#111" stroke-width="0.8"/>
<line x1="352.80" y1="483.70" x2="354.20" y2="483.70" stroke="#111" stroke-width="0.8"/>
<line x1="352.80" y1="492.10" x2="354.20" y2="492.10" stroke="#111" stroke-width="0.8"/>
<line x1="352.80" y1="505.53" x2="354.20" y2="505.53" stroke="#111" stroke-width="0.8"/>
<line x1="352.80" y1="513.93" x2="354.20" y2="513.93" stroke="#111" stroke-width="0.8"/>
<line x1="352.80" y1="527.36" x2="354.20" y2="527.36" stroke="#111" stroke-width="0.8"/>
<line x1="352.80" y1="535.76" x2="354.20" y2="535.76" stroke="#111" stroke-width="0.8"/>
<line x1="352.80" y1="549.19" x2="354.20" y2="549.19" stroke="#111" stroke-width="0.8"/>
<line x1="352.80" y1="557.59" x2="354.20" y2="557.59" stroke="#111" stroke-width="0.8"/>
<line x1="352.80" y1="571.02" x2="354.20" y2="571.02" stroke="#111" stroke-width="0.8"/>
<line x1="352.80" y1="579.42" x2="354.20" y2="579.42" stroke="#111" stroke-width="0.8"/>
<line x1="352.80" y1="592.85" x2="354.20" y2="592.85" stroke="#111" stroke-width="0.8"/>
<line x1="352.80" y1="601.25" x2="354.20" y2="601.25" stroke="#111" stroke-width="0.8"/>
<line x1="352.80" y1="614.68" x2="354.20" y2="614.68" stroke="#111" stroke-width="0.8"/>
<line x1="352.80" y1="623.08" x2="354.20" y2="623.08" stroke="#111" stroke-width="0.8"/>
<line x1="353.60" y1="628.2" x2="422.60" y2="628.2" stroke="#222" stroke-width="1.1"/>
<line x1="354.20" y1="628.2" x2="354.20" y2="630.00" stroke="#222" stroke-width="0.8"/>
<text x="355.20" y="634.90" font-size="5.5" fill="#222" stroke="#222" stroke-width="0.2" text-anchor="end" textLength="9.6" lengthAdjust="spacingAndGlyphs" transform="rotate(-45 355.20 634.90)">0.00</text>
<line x1="377.00" y1="628.2" x2="377.00" y2="630.00" stroke="#222" stroke-width="0.8"/>
<text x="378.00" y="634.90" font-size="5.5" fill="#222" stroke="#222" stroke-width="0.2" text-anchor="end" textLength="9.6" lengthAdjust="spacingAndGlyphs" transform="rotate(-45 378.00 634.90)">0.05</text>
<line x1="399.80" y1="628.2" x2="399.80" y2="630.00" stroke="#222" stroke-width="0.8"/>
<text x="400.80" y="634.90" font-size="5.5" fill="#222" stroke="#222" stroke-width="0.2" text-anchor="end" textLength="9.6" lengthAdjust="spacingAndGlyphs" transform="rotate(-45 400.80 634.90)">0.10</text>
<line x1="422.60" y1="628.2" x2="422.60" y2="630.00" stroke="#222" stroke-width="0.8"/>
<text x="423.60" y="634.90" font-size="5.5" fill="#222" stroke="#222" stroke-width="0.2" text-anchor="end" textLength="9.6" lengthAdjust="spacingAndGlyphs" transform="rotate(-45 423.60 634.90)">0.15</text>
<text x="365.00" y="649.00" font-size="5.8" fill="#222" text-anchor="start" font-weight="normal" textLength="47.20" lengthAdjust="spacingAndGlyphs" stroke="#222" stroke-width="0.15" >Indel frequency (%)</text>
<text x="435.90" y="142.10" font-size="10.2" fill="#111" text-anchor="start" font-weight="normal" textLength="6.20" lengthAdjust="spacingAndGlyphs" stroke="#111" stroke-width="0.15" >E</text>
<text x="605.30" y="151.00" font-size="6.5" fill="#222" text-anchor="start" font-weight="normal" textLength="10.70" lengthAdjust="spacingAndGlyphs" stroke="#222" stroke-width="0.2" >TB7</text>
<text x="452.00" y="170.90" font-size="5.2" fill="#1a1a1a" stroke="#1a1a1a" stroke-width="0.12" textLength="69.14" lengthAdjust="spacingAndGlyphs">AGTTT<tspan fill="#ee3b24" stroke="#ee3b24">T</tspan>CACC<tspan fill="#ee3b24" stroke="#ee3b24">A</tspan>G<tspan fill="#ee3b24" stroke="#ee3b24">T</tspan>TCCACTG</text>
<text x="531.90" y="170.90" font-size="5.2" fill="#1a1a1a" text-anchor="start" font-weight="normal" textLength="11.80" lengthAdjust="spacingAndGlyphs" stroke="#1a1a1a" stroke-width="0.12" >GGG</text>
<text x="554.20" y="170.90" font-size="5.2" fill="#222" text-anchor="start" font-weight="normal" textLength="14.00" lengthAdjust="spacingAndGlyphs" stroke="#222" stroke-width="0.12" >Chr. 1</text>
<text x="452.00" y="191.70" font-size="5.2" fill="#1a1a1a" stroke="#1a1a1a" stroke-width="0.12" textLength="70.27" lengthAdjust="spacingAndGlyphs">AGTTT<tspan fill="#ee3b24" stroke="#ee3b24">G</tspan>CACCCG<tspan fill="#ee3b24" stroke="#ee3b24">T</tspan>TCCACTG</text>
<text x="531.90" y="191.70" font-size="5.2" fill="#1a1a1a" text-anchor="start" font-weight="normal" textLength="11.80" lengthAdjust="spacingAndGlyphs" stroke="#1a1a1a" stroke-width="0.12" >CAG</text>
<text x="554.20" y="191.70" font-size="5.2" fill="#222" text-anchor="start" font-weight="normal" textLength="14.00" lengthAdjust="spacingAndGlyphs" stroke="#222" stroke-width="0.12" >Chr. 3</text>
<line x1="576.30" y1="159.6" x2="576.30" y2="198.5" stroke="#666" stroke-width="1.0"/>
<rect x="576.70" y="162.70" width="15.70" height="4.60" fill="#0a549b" stroke="#111" stroke-width="0.85"/>
<rect x="576.70" y="170.70" width="17.80" height="4.60" fill="#fd9606" stroke="#111" stroke-width="0.85"/>
<rect x="576.40" y="183.40" width="1.40" height="4.80" fill="#0a549b" stroke="#111" stroke-width="0.4"/>
<rect x="576.70" y="191.50" width="3.40" height="4.60" fill="#fd9606" stroke="#111" stroke-width="0.85"/>
<line x1="622.0" y1="161.0" x2="622.0" y2="198.5" stroke="#505050" stroke-width="1.6" stroke-dasharray="2.3,1.2"/>
<line x1="575.00" y1="165.00" x2="576.40" y2="165.00" stroke="#111" stroke-width="0.8"/>
<line x1="575.00" y1="173.00" x2="576.40" y2="173.00" stroke="#111" stroke-width="0.8"/>
<line x1="575.00" y1="185.80" x2="576.40" y2="185.80" stroke="#111" stroke-width="0.8"/>
<line x1="575.00" y1="193.80" x2="576.40" y2="193.80" stroke="#111" stroke-width="0.8"/>
<line x1="575.80" y1="198.5" x2="644.71" y2="198.5" stroke="#222" stroke-width="1.1"/>
<line x1="576.40" y1="198.5" x2="576.40" y2="200.30" stroke="#222" stroke-width="0.8"/>
<line x1="599.17" y1="198.5" x2="599.17" y2="200.30" stroke="#222" stroke-width="0.8"/>
<line x1="621.94" y1="198.5" x2="621.94" y2="200.30" stroke="#222" stroke-width="0.8"/>
<line x1="644.71" y1="198.5" x2="644.71" y2="200.30" stroke="#222" stroke-width="0.8"/>
<text x="434.80" y="212.50" font-size="10.2" fill="#111" text-anchor="start" font-weight="normal" textLength="5.60" lengthAdjust="spacingAndGlyphs" stroke="#111" stroke-width="0.15" >F</text>
<text x="602.70" y="215.80" font-size="6.5" fill="#222" text-anchor="start" font-weight="normal" textLength="15.60" lengthAdjust="spacingAndGlyphs" stroke="#222" stroke-width="0.2" >TB50</text>
<text x="454.70" y="228.10" font-size="5.2" fill="#1a1a1a" stroke="#1a1a1a" stroke-width="0.12" textLength="68.95" lengthAdjust="spacingAndGlyphs">C<tspan fill="#ee3b24" stroke="#ee3b24">T</tspan>ACAA<tspan fill="#ee3b24" stroke="#ee3b24">G</tspan>GG<tspan fill="#ee3b24" stroke="#ee3b24">A</tspan>ATAGATGATG</text>
<text x="532.90" y="228.10" font-size="5.2" fill="#1a1a1a" text-anchor="start" font-weight="normal" textLength="11.00" lengthAdjust="spacingAndGlyphs" stroke="#1a1a1a" stroke-width="0.12" >AGG</text>
<text x="554.80" y="228.10" font-size="5.2" fill="#222" text-anchor="start" font-weight="normal" textLength="14.60" lengthAdjust="spacingAndGlyphs" stroke="#222" stroke-width="0.12" >Chr. 1</text>
<text x="454.70" y="249.91" font-size="5.2" fill="#1a1a1a" stroke="#1a1a1a" stroke-width="0.12" textLength="68.77" lengthAdjust="spacingAndGlyphs">C<tspan fill="#ee3b24" stroke="#ee3b24">T</tspan>ACAAAGGCATA<tspan fill="#ee3b24" stroke="#ee3b24">A</tspan>ATGA<tspan fill="#ee3b24" stroke="#ee3b24">A</tspan>G</text>
<text x="532.90" y="249.91" font-size="5.2" fill="#1a1a1a" text-anchor="start" font-weight="normal" textLength="11.00" lengthAdjust="spacingAndGlyphs" stroke="#1a1a1a" stroke-width="0.12" >TGG</text>
<text x="554.80" y="249.91" font-size="5.2" fill="#222" text-anchor="start" font-weight="normal" textLength="14.60" lengthAdjust="spacingAndGlyphs" stroke="#222" stroke-width="0.12" >Chr. 2</text>
<text x="454.70" y="271.72" font-size="5.2" fill="#1a1a1a" stroke="#1a1a1a" stroke-width="0.12" textLength="68.47" lengthAdjust="spacingAndGlyphs">C<tspan fill="#ee3b24" stroke="#ee3b24">T</tspan>ACAAAGGCATAG<tspan fill="#ee3b24" stroke="#ee3b24">T</tspan>T<tspan fill="#ee3b24" stroke="#ee3b24">C</tspan>ATG</text>
<text x="532.90" y="271.72" font-size="5.2" fill="#1a1a1a" text-anchor="start" font-weight="normal" textLength="11.00" lengthAdjust="spacingAndGlyphs" stroke="#1a1a1a" stroke-width="0.12" >GGG</text>
<text x="554.80" y="271.72" font-size="5.2" fill="#222" text-anchor="start" font-weight="normal" textLength="14.60" lengthAdjust="spacingAndGlyphs" stroke="#222" stroke-width="0.12" >Chr. 3</text>
<text x="454.70" y="293.53" font-size="5.2" fill="#1a1a1a" stroke="#1a1a1a" stroke-width="0.12" textLength="70.93" lengthAdjust="spacingAndGlyphs"><tspan fill="#ee3b24" stroke="#ee3b24">A</tspan>GACAAAGGC<tspan fill="#ee3b24" stroke="#ee3b24">C</tspan>T<tspan fill="#ee3b24" stroke="#ee3b24">C</tspan>GATGATG</text>
<text x="532.90" y="293.53" font-size="5.2" fill="#1a1a1a" text-anchor="start" font-weight="normal" textLength="11.00" lengthAdjust="spacingAndGlyphs" stroke="#1a1a1a" stroke-width="0.12" >GGG</text>
<text x="554.80" y="293.53" font-size="5.2" fill="#222" text-anchor="start" font-weight="normal" textLength="17.60" lengthAdjust="spacingAndGlyphs" stroke="#222" stroke-width="0.12" >Chr. 15</text>
<text x="454.70" y="315.34" font-size="5.2" fill="#1a1a1a" stroke="#1a1a1a" stroke-width="0.12" textLength="70.27" lengthAdjust="spacingAndGlyphs"><tspan fill="#ee3b24" stroke="#ee3b24">A</tspan>GACA<tspan fill="#ee3b24" stroke="#ee3b24">G</tspan>AGGC<tspan fill="#ee3b24" stroke="#ee3b24">T</tspan>TAGATGATG</text>
<text x="532.90" y="315.34" font-size="5.2" fill="#1a1a1a" text-anchor="start" font-weight="normal" textLength="11.00" lengthAdjust="spacingAndGlyphs" stroke="#1a1a1a" stroke-width="0.12" >GGG</text>
<text x="554.80" y="315.34" font-size="5.2" fill="#222" text-anchor="start" font-weight="normal" textLength="17.60" lengthAdjust="spacingAndGlyphs" stroke="#222" stroke-width="0.12" >Chr. 11</text>
<text x="454.70" y="337.15" font-size="5.2" fill="#1a1a1a" stroke="#1a1a1a" stroke-width="0.12" textLength="68.00" lengthAdjust="spacingAndGlyphs">CGA<tspan fill="#ee3b24" stroke="#ee3b24">A</tspan>AA<tspan fill="#ee3b24" stroke="#ee3b24">T</tspan>GG<tspan fill="#ee3b24" stroke="#ee3b24">T</tspan>ATAGATGATG</text>
<text x="532.90" y="337.15" font-size="5.2" fill="#1a1a1a" text-anchor="start" font-weight="normal" textLength="11.00" lengthAdjust="spacingAndGlyphs" stroke="#1a1a1a" stroke-width="0.12" >CGG</text>
<text x="554.80" y="337.15" font-size="5.2" fill="#222" text-anchor="start" font-weight="normal" textLength="17.60" lengthAdjust="spacingAndGlyphs" stroke="#222" stroke-width="0.12" >Chr. 17</text>
<text x="454.70" y="358.96" font-size="5.2" fill="#1a1a1a" stroke="#1a1a1a" stroke-width="0.12" textLength="70.66" lengthAdjust="spacingAndGlyphs"><tspan fill="#ee3b24" stroke="#ee3b24">A</tspan>GACAAAGC<tspan fill="#ee3b24" stroke="#ee3b24">C</tspan>AC<tspan fill="#ee3b24" stroke="#ee3b24">A</tspan>GATGATG</text>
<text x="532.90" y="358.96" font-size="5.2" fill="#1a1a1a" text-anchor="start" font-weight="normal" textLength="11.00" lengthAdjust="spacingAndGlyphs" stroke="#1a1a1a" stroke-width="0.12" >TGG</text>
<text x="554.80" y="358.96" font-size="5.2" fill="#222" text-anchor="start" font-weight="normal" textLength="14.60" lengthAdjust="spacingAndGlyphs" stroke="#222" stroke-width="0.12" >Chr. X</text>
<text x="454.70" y="380.77" font-size="5.2" fill="#1a1a1a" stroke="#1a1a1a" stroke-width="0.12" textLength="69.33" lengthAdjust="spacingAndGlyphs"><tspan fill="#ee3b24" stroke="#ee3b24">T</tspan>GACA<tspan fill="#ee3b24" stroke="#ee3b24">C</tspan>AGG<tspan fill="#ee3b24" stroke="#ee3b24">A</tspan>ATAGATGATG</text>
<text x="532.90" y="380.77" font-size="5.2" fill="#1a1a1a" text-anchor="start" font-weight="normal" textLength="11.00" lengthAdjust="spacingAndGlyphs" stroke="#1a1a1a" stroke-width="0.12" >AGG</text>
<text x="554.80" y="380.77" font-size="5.2" fill="#222" text-anchor="start" font-weight="normal" textLength="14.60" lengthAdjust="spacingAndGlyphs" stroke="#222" stroke-width="0.12" >Chr. 4</text>
<text x="454.70" y="402.58" font-size="5.2" fill="#1a1a1a" stroke="#1a1a1a" stroke-width="0.12" textLength="70.46" lengthAdjust="spacingAndGlyphs">CGA<tspan fill="#ee3b24" stroke="#ee3b24">T</tspan><tspan fill="#ee3b24" stroke="#ee3b24">G</tspan>AAGGC<tspan fill="#ee3b24" stroke="#ee3b24">G</tspan>TAGATGATG</text>
<text x="532.90" y="402.58" font-size="5.2" fill="#1a1a1a" text-anchor="start" font-weight="normal" textLength="11.00" lengthAdjust="spacingAndGlyphs" stroke="#1a1a1a" stroke-width="0.12" >GGG</text>
<text x="554.80" y="402.58" font-size="5.2" fill="#222" text-anchor="start" font-weight="normal" textLength="14.60" lengthAdjust="spacingAndGlyphs" stroke="#222" stroke-width="0.12" >Chr. 2</text>
<text x="454.70" y="424.39" font-size="5.2" fill="#1a1a1a" stroke="#1a1a1a" stroke-width="0.12" textLength="71.23" lengthAdjust="spacingAndGlyphs">CGA<tspan fill="#ee3b24" stroke="#ee3b24">A</tspan>AAAGGCATAGA<tspan fill="#ee3b24" stroke="#ee3b24">C</tspan>GA<tspan fill="#ee3b24" stroke="#ee3b24">A</tspan>G</text>
<text x="532.90" y="424.39" font-size="5.2" fill="#1a1a1a" text-anchor="start" font-weight="normal" textLength="11.00" lengthAdjust="spacingAndGlyphs" stroke="#1a1a1a" stroke-width="0.12" >GGG</text>
<text x="554.80" y="424.39" font-size="5.2" fill="#222" text-anchor="start" font-weight="normal" textLength="17.60" lengthAdjust="spacingAndGlyphs" stroke="#222" stroke-width="0.12" >Chr. 11</text>
<text x="454.70" y="446.20" font-size="5.2" fill="#1a1a1a" stroke="#1a1a1a" stroke-width="0.12" textLength="69.70" lengthAdjust="spacingAndGlyphs">C<tspan fill="#ee3b24" stroke="#ee3b24">A</tspan>ACAA<tspan fill="#ee3b24" stroke="#ee3b24">C</tspan>GGCAT<tspan fill="#ee3b24" stroke="#ee3b24">T</tspan>GATGATG</text>
<text x="532.90" y="446.20" font-size="5.2" fill="#1a1a1a" text-anchor="start" font-weight="normal" textLength="11.00" lengthAdjust="spacingAndGlyphs" stroke="#1a1a1a" stroke-width="0.12" >CAG</text>
<text x="554.80" y="446.20" font-size="5.2" fill="#222" text-anchor="start" font-weight="normal" textLength="14.60" lengthAdjust="spacingAndGlyphs" stroke="#222" stroke-width="0.12" >Chr. 3</text>
<text x="454.70" y="468.01" font-size="5.2" fill="#1a1a1a" stroke="#1a1a1a" stroke-width="0.12" textLength="67.82" lengthAdjust="spacingAndGlyphs"><tspan fill="#ee3b24" stroke="#ee3b24">T</tspan>GACAAAG<tspan fill="#ee3b24" stroke="#ee3b24">T</tspan><tspan fill="#ee3b24" stroke="#ee3b24">A</tspan>ATAGATGATG</text>
<text x="532.90" y="468.01" font-size="5.2" fill="#1a1a1a" text-anchor="start" font-weight="normal" textLength="11.00" lengthAdjust="spacingAndGlyphs" stroke="#1a1a1a" stroke-width="0.12" >CAG</text>
<text x="554.80" y="468.01" font-size="5.2" fill="#222" text-anchor="start" font-weight="normal" textLength="14.60" lengthAdjust="spacingAndGlyphs" stroke="#222" stroke-width="0.12" >Chr. 8</text>
<text x="454.70" y="489.82" font-size="5.2" fill="#1a1a1a" stroke="#1a1a1a" stroke-width="0.12" textLength="71.89" lengthAdjust="spacingAndGlyphs"><tspan fill="#ee3b24" stroke="#ee3b24">A</tspan>GACAAAGGCA<tspan fill="#ee3b24" stroke="#ee3b24">G</tspan>AGATGA<tspan fill="#ee3b24" stroke="#ee3b24">A</tspan>G</text>
<text x="532.90" y="489.82" font-size="5.2" fill="#1a1a1a" text-anchor="start" font-weight="normal" textLength="11.00" lengthAdjust="spacingAndGlyphs" stroke="#1a1a1a" stroke-width="0.12" >AAG</text>
<text x="554.80" y="489.82" font-size="5.2" fill="#222" text-anchor="start" font-weight="normal" textLength="17.60" lengthAdjust="spacingAndGlyphs" stroke="#222" stroke-width="0.12" >Chr. 13</text>
<text x="454.70" y="511.63" font-size="5.2" fill="#1a1a1a" stroke="#1a1a1a" stroke-width="0.12" textLength="68.38" lengthAdjust="spacingAndGlyphs">C<tspan fill="#ee3b24" stroke="#ee3b24">T</tspan>ACAAAGGCATA<tspan fill="#ee3b24" stroke="#ee3b24">T</tspan><tspan fill="#ee3b24" stroke="#ee3b24">G</tspan>TGATG</text>
<text x="532.90" y="511.63" font-size="5.2" fill="#1a1a1a" text-anchor="start" font-weight="normal" textLength="11.00" lengthAdjust="spacingAndGlyphs" stroke="#1a1a1a" stroke-width="0.12" >AAG</text>
<text x="554.80" y="511.63" font-size="5.2" fill="#222" text-anchor="start" font-weight="normal" textLength="14.60" lengthAdjust="spacingAndGlyphs" stroke="#222" stroke-width="0.12" >Chr. 4</text>
<text x="454.70" y="533.44" font-size="5.2" fill="#1a1a1a" stroke="#1a1a1a" stroke-width="0.12" textLength="71.60" lengthAdjust="spacingAndGlyphs"><tspan fill="#ee3b24" stroke="#ee3b24">T</tspan>GACAAAGGCA<tspan fill="#ee3b24" stroke="#ee3b24">G</tspan>AGATGA<tspan fill="#ee3b24" stroke="#ee3b24">A</tspan>G</text>
<text x="532.90" y="533.44" font-size="5.2" fill="#1a1a1a" text-anchor="start" font-weight="normal" textLength="11.00" lengthAdjust="spacingAndGlyphs" stroke="#1a1a1a" stroke-width="0.12" >AAG</text>
<text x="554.80" y="533.44" font-size="5.2" fill="#222" text-anchor="start" font-weight="normal" textLength="17.60" lengthAdjust="spacingAndGlyphs" stroke="#222" stroke-width="0.12" >Chr. 19</text>
<text x="454.70" y="555.25" font-size="5.2" fill="#1a1a1a" stroke="#1a1a1a" stroke-width="0.12" textLength="68.86" lengthAdjust="spacingAndGlyphs">C<tspan fill="#ee3b24" stroke="#ee3b24">A</tspan>ACAAAG<tspan fill="#ee3b24" stroke="#ee3b24">A</tspan>CAT<tspan fill="#ee3b24" stroke="#ee3b24">T</tspan>GATGATG</text>
<text x="532.90" y="555.25" font-size="5.2" fill="#1a1a1a" text-anchor="start" font-weight="normal" textLength="11.00" lengthAdjust="spacingAndGlyphs" stroke="#1a1a1a" stroke-width="0.12" >AAG</text>
<text x="554.80" y="555.25" font-size="5.2" fill="#222" text-anchor="start" font-weight="normal" textLength="17.60" lengthAdjust="spacingAndGlyphs" stroke="#222" stroke-width="0.12" >Chr. 12</text>
<text x="454.70" y="577.06" font-size="5.2" fill="#1a1a1a" stroke="#1a1a1a" stroke-width="0.12" textLength="70.09" lengthAdjust="spacingAndGlyphs">C<tspan fill="#ee3b24" stroke="#ee3b24">A</tspan>ACAAAGG<tspan fill="#ee3b24" stroke="#ee3b24">A</tspan>A<tspan fill="#ee3b24" stroke="#ee3b24">A</tspan>AGATGATG</text>
<text x="532.90" y="577.06" font-size="5.2" fill="#1a1a1a" text-anchor="start" font-weight="normal" textLength="11.00" lengthAdjust="spacingAndGlyphs" stroke="#1a1a1a" stroke-width="0.12" >AAG</text>
<text x="554.80" y="577.06" font-size="5.2" fill="#222" text-anchor="start" font-weight="normal" textLength="17.60" lengthAdjust="spacingAndGlyphs" stroke="#222" stroke-width="0.12" >Chr. 19</text>
<text x="454.70" y="598.87" font-size="5.2" fill="#1a1a1a" stroke="#1a1a1a" stroke-width="0.12" textLength="71.22" lengthAdjust="spacingAndGlyphs"><tspan fill="#ee3b24" stroke="#ee3b24">G</tspan>GACAAAGG<tspan fill="#ee3b24" stroke="#ee3b24">A</tspan>A<tspan fill="#ee3b24" stroke="#ee3b24">C</tspan>AGATGATG</text>
<text x="532.90" y="598.87" font-size="5.2" fill="#1a1a1a" text-anchor="start" font-weight="normal" textLength="11.00" lengthAdjust="spacingAndGlyphs" stroke="#1a1a1a" stroke-width="0.12" >AAG</text>
<text x="554.80" y="598.87" font-size="5.2" fill="#222" text-anchor="start" font-weight="normal" textLength="14.60" lengthAdjust="spacingAndGlyphs" stroke="#222" stroke-width="0.12" >Chr. X</text>
<text x="454.70" y="620.68" font-size="5.2" fill="#1a1a1a" stroke="#1a1a1a" stroke-width="0.12" textLength="68.01" lengthAdjust="spacingAndGlyphs">CGA<tspan fill="#ee3b24" stroke="#ee3b24">T</tspan>AAAG<tspan fill="#ee3b24" stroke="#ee3b24">C</tspan><tspan fill="#ee3b24" stroke="#ee3b24">A</tspan>ATAGATGATG</text>
<text x="532.90" y="620.68" font-size="5.2" fill="#1a1a1a" text-anchor="start" font-weight="normal" textLength="11.00" lengthAdjust="spacingAndGlyphs" stroke="#1a1a1a" stroke-width="0.12" >AAG</text>
<text x="554.80" y="620.68" font-size="5.2" fill="#222" text-anchor="start" font-weight="normal" textLength="17.60" lengthAdjust="spacingAndGlyphs" stroke="#222" stroke-width="0.12" >Chr. 10</text>
<line x1="576.30" y1="216.5" x2="576.30" y2="628.5" stroke="#555" stroke-width="1.2"/>
<rect x="576.70" y="227.90" width="11.60" height="5.00" fill="#fd9606" stroke="#111" stroke-width="0.85"/>
<rect x="576.70" y="241.31" width="6.10" height="5.00" fill="#0a549b" stroke="#111" stroke-width="0.85"/>
<rect x="576.70" y="249.71" width="6.10" height="5.00" fill="#fd9606" stroke="#111" stroke-width="0.85"/>
<rect x="576.20" y="262.82" width="1.0" height="5.60" fill="#111"/>
<rect x="576.20" y="271.22" width="1.0" height="5.60" fill="#111"/>
<rect x="576.40" y="293.23" width="1.10" height="5.20" fill="#fd9606" stroke="#111" stroke-width="0.4"/>
<rect x="576.70" y="315.14" width="19.70" height="5.00" fill="#fd9606" stroke="#111" stroke-width="0.85"/>
<rect x="576.70" y="358.76" width="23.90" height="5.00" fill="#fd9606" stroke="#111" stroke-width="0.85"/>
<rect x="576.70" y="393.98" width="3.70" height="5.00" fill="#0a549b" stroke="#111" stroke-width="0.85"/>
<rect x="576.70" y="402.38" width="5.00" height="5.00" fill="#fd9606" stroke="#111" stroke-width="0.85"/>
<rect x="576.70" y="415.79" width="11.60" height="5.00" fill="#0a549b" stroke="#111" stroke-width="0.85"/>
<rect x="576.70" y="424.19" width="6.80" height="5.00" fill="#fd9606" stroke="#111" stroke-width="0.85"/>
<rect x="576.40" y="437.50" width="1.90" height="5.20" fill="#0a549b" stroke="#111" stroke-width="0.4"/>
<rect x="576.40" y="445.90" width="1.10" height="5.20" fill="#fd9606" stroke="#111" stroke-width="0.4"/>
<rect x="576.40" y="481.12" width="2.40" height="5.20" fill="#0a549b" stroke="#111" stroke-width="0.4"/>
<rect x="576.70" y="503.03" width="4.60" height="5.00" fill="#0a549b" stroke="#111" stroke-width="0.85"/>
<rect x="576.20" y="511.13" width="1.0" height="5.60" fill="#111"/>
<rect x="576.20" y="589.97" width="1.0" height="5.60" fill="#111"/>
<rect x="576.20" y="611.78" width="1.0" height="5.60" fill="#111"/>
<rect x="576.20" y="620.18" width="1.0" height="5.60" fill="#111"/>
<line x1="622.1" y1="216.9" x2="622.1" y2="628.5" stroke="#767676" stroke-width="1.5" stroke-dasharray="2.3,1.3"/>
<line x1="575.00" y1="222.00" x2="576.40" y2="222.00" stroke="#111" stroke-width="0.8"/>
<line x1="575.00" y1="230.40" x2="576.40" y2="230.40" stroke="#111" stroke-width="0.8"/>
<line x1="575.00" y1="243.81" x2="576.40" y2="243.81" stroke="#111" stroke-width="0.8"/>
<line x1="575.00" y1="252.21" x2="576.40" y2="252.21" stroke="#111" stroke-width="0.8"/>
<line x1="575.00" y1="265.62" x2="576.40" y2="265.62" stroke="#111" stroke-width="0.8"/>
<line x1="575.00" y1="274.02" x2="576.40" y2="274.02" stroke="#111" stroke-width="0.8"/>
<line x1="575.00" y1="287.43" x2="576.40" y2="287.43" stroke="#111" stroke-width="0.8"/>
<line x1="575.00" y1="295.83" x2="576.40" y2="295.83" stroke="#111" stroke-width="0.8"/>
<line x1="575.00" y1="309.24" x2="576.40" y2="309.24" stroke="#111" stroke-width="0.8"/>
<line x1="575.00" y1="317.64" x2="576.40" y2="317.64" stroke="#111" stroke-width="0.8"/>
<line x1="575.00" y1="331.05" x2="576.40" y2="331.05" stroke="#111" stroke-width="0.8"/>
<line x1="575.00" y1="339.45" x2="576.40" y2="339.45" stroke="#111" stroke-width="0.8"/>
<line x1="575.00" y1="352.86" x2="576.40" y2="352.86" stroke="#111" stroke-width="0.8"/>
<line x1="575.00" y1="361.26" x2="576.40" y2="361.26" stroke="#111" stroke-width="0.8"/>
<line x1="575.00" y1="374.67" x2="576.40" y2="374.67" stroke="#111" stroke-width="0.8"/>
<line x1="575.00" y1="383.07" x2="576.40" y2="383.07" stroke="#111" stroke-width="0.8"/>
<line x1="575.00" y1="396.48" x2="576.40" y2="396.48" stroke="#111" stroke-width="0.8"/>
<line x1="575.00" y1="404.88" x2="576.40" y2="404.88" stroke="#111" stroke-width="0.8"/>
<line x1="575.00" y1="418.29" x2="576.40" y2="418.29" stroke="#111" stroke-width="0.8"/>
<line x1="575.00" y1="426.69" x2="576.40" y2="426.69" stroke="#111" stroke-width="0.8"/>
<line x1="575.00" y1="440.10" x2="576.40" y2="440.10" stroke="#111" stroke-width="0.8"/>
<line x1="575.00" y1="448.50" x2="576.40" y2="448.50" stroke="#111" stroke-width="0.8"/>
<line x1="575.00" y1="461.91" x2="576.40" y2="461.91" stroke="#111" stroke-width="0.8"/>
<line x1="575.00" y1="470.31" x2="576.40" y2="470.31" stroke="#111" stroke-width="0.8"/>
<line x1="575.00" y1="483.72" x2="576.40" y2="483.72" stroke="#111" stroke-width="0.8"/>
<line x1="575.00" y1="492.12" x2="576.40" y2="492.12" stroke="#111" stroke-width="0.8"/>
<line x1="575.00" y1="505.53" x2="576.40" y2="505.53" stroke="#111" stroke-width="0.8"/>
<line x1="575.00" y1="513.93" x2="576.40" y2="513.93" stroke="#111" stroke-width="0.8"/>
<line x1="575.00" y1="527.34" x2="576.40" y2="527.34" stroke="#111" stroke-width="0.8"/>
<line x1="575.00" y1="535.74" x2="576.40" y2="535.74" stroke="#111" stroke-width="0.8"/>
<line x1="575.00" y1="549.15" x2="576.40" y2="549.15" stroke="#111" stroke-width="0.8"/>
<line x1="575.00" y1="557.55" x2="576.40" y2="557.55" stroke="#111" stroke-width="0.8"/>
<line x1="575.00" y1="570.96" x2="576.40" y2="570.96" stroke="#111" stroke-width="0.8"/>
<line x1="575.00" y1="579.36" x2="576.40" y2="579.36" stroke="#111" stroke-width="0.8"/>
<line x1="575.00" y1="592.77" x2="576.40" y2="592.77" stroke="#111" stroke-width="0.8"/>
<line x1="575.00" y1="601.17" x2="576.40" y2="601.17" stroke="#111" stroke-width="0.8"/>
<line x1="575.00" y1="614.58" x2="576.40" y2="614.58" stroke="#111" stroke-width="0.8"/>
<line x1="575.00" y1="622.98" x2="576.40" y2="622.98" stroke="#111" stroke-width="0.8"/>
<line x1="575.70" y1="628.5" x2="644.71" y2="628.5" stroke="#333" stroke-width="1.0"/>
<line x1="576.40" y1="628.5" x2="576.40" y2="630.30" stroke="#222" stroke-width="0.8"/>
<text x="577.40" y="635.20" font-size="5.5" fill="#222" stroke="#222" stroke-width="0.2" text-anchor="end" textLength="9.6" lengthAdjust="spacingAndGlyphs" transform="rotate(-45 577.40 635.20)">0.00</text>
<line x1="599.17" y1="628.5" x2="599.17" y2="630.30" stroke="#222" stroke-width="0.8"/>
<text x="600.17" y="635.20" font-size="5.5" fill="#222" stroke="#222" stroke-width="0.2" text-anchor="end" textLength="9.6" lengthAdjust="spacingAndGlyphs" transform="rotate(-45 600.17 635.20)">0.05</text>
<line x1="621.94" y1="628.5" x2="621.94" y2="630.30" stroke="#222" stroke-width="0.8"/>
<text x="622.94" y="635.20" font-size="5.5" fill="#222" stroke="#222" stroke-width="0.2" text-anchor="end" textLength="9.6" lengthAdjust="spacingAndGlyphs" transform="rotate(-45 622.94 635.20)">0.10</text>
<line x1="644.71" y1="628.5" x2="644.71" y2="630.30" stroke="#222" stroke-width="0.8"/>
<text x="645.71" y="635.20" font-size="5.5" fill="#222" stroke="#222" stroke-width="0.2" text-anchor="end" textLength="9.6" lengthAdjust="spacingAndGlyphs" transform="rotate(-45 645.71 635.20)">0.15</text>
<text x="586.90" y="649.60" font-size="5.8" fill="#222" text-anchor="start" font-weight="normal" textLength="47.30" lengthAdjust="spacingAndGlyphs" stroke="#222" stroke-width="0.15" >Indel frequency (%)</text>
</svg>
</body></html>
